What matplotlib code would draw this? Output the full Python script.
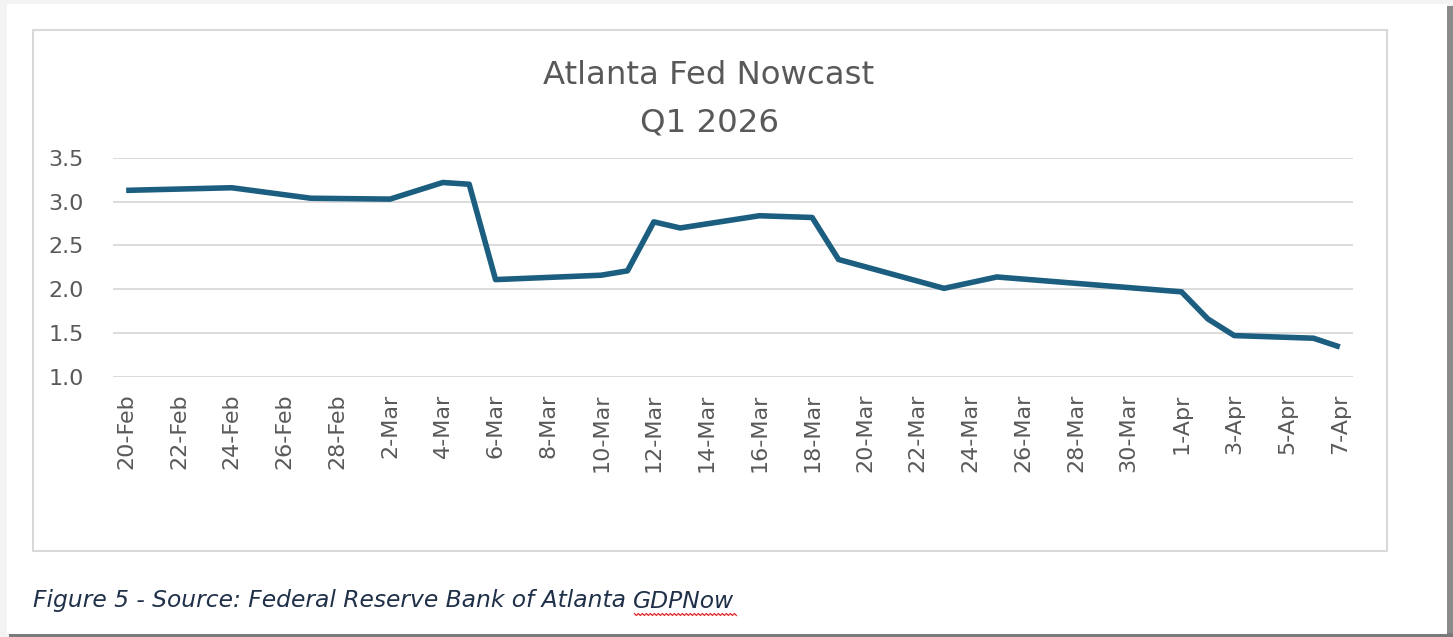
# -*- coding: utf-8 -*-
"""
Atlanta Fed Nowcast (GDPNow) Q1 2026 - line chart, Excel style
"""

#%% librerias
import datetime as dt
import numpy as np
import matplotlib
matplotlib.use('Agg')
import matplotlib.pyplot as plt
from matplotlib.lines import Line2D
from matplotlib.patches import Rectangle
from matplotlib.ticker import FuncFormatter, MultipleLocator

#%% datos
dates = ['2026-02-20', '2026-02-24', '2026-02-27', '2026-03-02', '2026-03-04',
         '2026-03-05', '2026-03-06', '2026-03-10', '2026-03-11', '2026-03-12',
         '2026-03-13', '2026-03-16', '2026-03-18', '2026-03-19', '2026-03-23',
         '2026-03-25', '2026-04-01', '2026-04-02', '2026-04-03', '2026-04-06',
         '2026-04-07']
nowcast = [3.13, 3.16, 3.04, 3.03, 3.22,
           3.20, 2.11, 2.16, 2.21, 2.77,
           2.70, 2.84, 2.82, 2.34, 2.01,
           2.14, 1.97, 1.66, 1.47, 1.44,
           1.34]
title = 'Atlanta Fed Nowcast\nQ1 2026'
caption_head = 'Figure 5 - Source: Federal Reserve Bank of Atlanta '
caption_tail = 'GDPNow'

x = [dt.datetime.strptime(d, '%Y-%m-%d') for d in dates]

#%% figura
W, H = 1453, 637
fig = plt.figure(figsize=(W / 100, H / 100), dpi=100)
fig.patch.set_facecolor('#f3f3f3')

def px(x0, y0, x1, y1):
    # rectangulo en pixeles (origen arriba-izquierda) -> fraccion de figura
    return (x0 / W, 1 - y1 / H), (x1 - x0) / W, (y1 - y0) / H

# sombra y pagina
for (xy, w, h), c in [(px(1445, 6, 1453, 637), '#8a8a8a'),
                      (px(9, 633, 1453, 637), '#7a7a7a')]:
    fig.patches.append(Rectangle(xy, w, h, transform=fig.transFigure,
                                 facecolor=c, edgecolor='none', zorder=-3))
xy, w, h = px(7, 4, 1447, 634)
fig.patches.append(Rectangle(xy, w, h, transform=fig.transFigure,
                             facecolor='white', edgecolor='none', zorder=-2))
# borde del area del grafico
xy, w, h = px(33, 30, 1387, 551)
fig.patches.append(Rectangle(xy, w, h, transform=fig.transFigure,
                             facecolor='white', edgecolor='#d9d9d9',
                             linewidth=1.5, zorder=-1))

ax = fig.add_axes([113 / W, 1 - 376.7 / H, (1353 - 113) / W, (376.7 - 158) / H])
ax.set_zorder(2)
ax.set_facecolor('none')

ax.plot(x, nowcast, color='#1b5e80', linewidth=4.0, solid_joinstyle='round',
        solid_capstyle='butt', zorder=3)

ax.set_ylim(1.0, 3.5)
ax.yaxis.set_major_locator(MultipleLocator(0.5))
ax.yaxis.set_major_formatter(FuncFormatter(lambda v, p: f'{v:.1f}'))
half = dt.timedelta(hours=12)
ax.set_xlim(x[0] - half, x[-1] + half)
ticks = []
d = x[0]
while d <= x[-1]:
    ticks.append(d)
    d += dt.timedelta(days=2)
ax.set_xticks(ticks)
ax.set_xticklabels([f"{t.day}-{t.strftime('%b')}" for t in ticks], rotation=90)

ax.grid(axis='y', color='#d9d9d9', linewidth=1.3)
ax.set_axisbelow(True)
for s in ax.spines.values():
    s.set_visible(False)
ax.tick_params(length=0, colors='#595959')
ax.tick_params(axis='y', pad=21, labelsize=16)
ax.tick_params(axis='x', pad=12, labelsize=16)

fig.text(709 / W, 1 - 99 / H, title, ha='center', va='center',
         fontsize=23.3, color='#595959', linespacing=1.7)

# pie de figura, con el subrayado rojo del corrector bajo "GDPNow"
t1 = fig.text(33 / W, 1 - 601 / H, caption_head, ha='left', va='center',
              fontsize=16.8, style='italic', color='#1f3048')
r = fig.canvas.get_renderer()
bb = t1.get_window_extent(r)
t2 = fig.text(bb.x1 / W, 1 - 601 / H, caption_tail, ha='left', va='center',
              fontsize=16.8, style='italic', color='#1f3048')
bb2 = t2.get_window_extent(r)
zx = np.arange(bb2.x0 + 1, bb2.x1 + 3, 2.0)
zy = bb2.y0 - 1 + np.where(np.arange(len(zx)) % 2 == 0, 0.0, -2.0)
fig.lines.append(Line2D(zx / W, zy / H, transform=fig.transFigure,
                        color='#e0282a', linewidth=0.9))

fig.savefig('out.png', dpi=100, facecolor=fig.get_facecolor())
